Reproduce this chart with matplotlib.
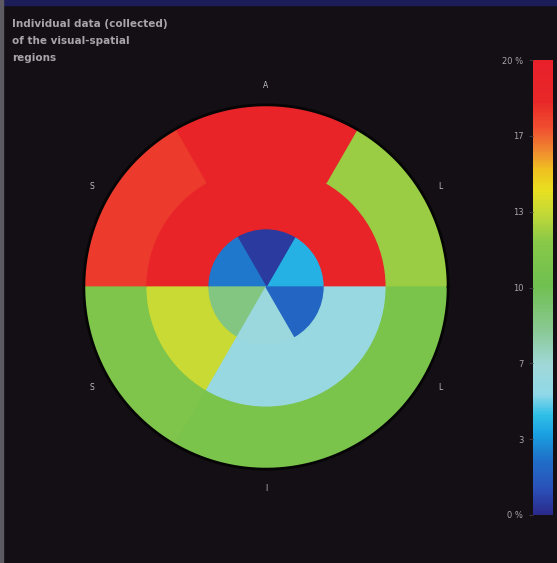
import numpy as np
import matplotlib.pyplot as plt
from matplotlib.colors import LinearSegmentedColormap, Normalize
from matplotlib.colorbar import ColorbarBase
from matplotlib.patches import Rectangle

# segment values (%), sectors counter-clockwise from 3 o'clock, 60 deg each
sector_start_deg = [0, 60, 120, 180, 240, 300]
outer_ring = [12.4, 19.0, 17.6, 11.3, 11.0, 11.0]
middle_ring = [19.0, 19.0, 19.0, 13.4, 6.0, 6.0]
inner_ring = [4.0, 0.5, 2.6, 8.6, 6.2, 2.0]

sector_labels = ['L', 'A', 'S', 'S', 'I', 'L']
ring_edges = [0.0, 0.32, 0.66, 1.0]

cbar_ticks = [0, 3.33, 6.67, 10, 13.33, 16.67, 20]
cbar_ticklabels = ['0 %', '3', '7', '10', '13', '17', '20 %']
vmin, vmax = 0, 20

title_lines = ['Individual data (collected)', 'of the visual-spatial', 'regions']

bg = '#130f14'
cmap = LinearSegmentedColormap.from_list('bull', [
    (0.00, '#2a2a8a'), (0.055, '#2a50b8'), (0.12, '#2070c8'),
    (0.176, '#1aa0e0'), (0.22, '#30c0e8'), (0.264, '#90d8e8'),
    (0.33, '#a0d8d8'), (0.41, '#88c890'), (0.505, '#70c050'),
    (0.60, '#88c848'), (0.66, '#c0d838'), (0.714, '#e8e020'),
    (0.76, '#f0c020'), (0.80, '#f08c30'), (0.85, '#f05030'),
    (0.91, '#e82828'), (1.00, '#e8202a')])
norm = Normalize(vmin, vmax)

fig = plt.figure(figsize=(5.57, 5.63), dpi=100, facecolor=bg)

# frame strips
fig.patches.append(Rectangle((0, 0.992), 1, 0.008, transform=fig.transFigure,
                             color='#1c1c58', zorder=0))
fig.patches.append(Rectangle((0, 0), 0.006, 1, transform=fig.transFigure,
                             color='#5e5a62', zorder=0))

ax = fig.add_axes([0.1113, 0.1279, 0.7325, 0.7247], projection='polar')
ax.set_facecolor(bg)
ax.set_ylim(0, 1.12)
ax.set_axis_off()

width = np.deg2rad(60)
for ring, vals in enumerate([inner_ring, middle_ring, outer_ring]):
    r0, r1 = ring_edges[ring], ring_edges[ring + 1]
    for start, v in zip(sector_start_deg, vals):
        ax.bar(np.deg2rad(start), r1 - r0, width=width, bottom=r0,
               align='edge', color=cmap(norm(v)), edgecolor=cmap(norm(v)),
               linewidth=0.9)

th = np.linspace(0, 2 * np.pi, 400)
ax.plot(th, np.full_like(th, 1.0), color='#050505', lw=2.0)

for start, lab in zip(sector_start_deg, sector_labels):
    ax.text(np.deg2rad(start + 30), 1.105, lab, color='#c0c0c0',
            fontsize=5.5, ha='center', va='center')

for i, line in enumerate(title_lines):
    fig.text(0.022, 0.957 - i * 0.030, line, color='#a8a4aa',
             fontsize=7.5, fontweight='bold', ha='left', va='center')

cax = fig.add_axes([0.957, 0.0853, 0.036, 0.808])
cb = ColorbarBase(cax, cmap=cmap, norm=norm, orientation='vertical',
                  ticks=cbar_ticks)
cb.outline.set_visible(False)
cax.yaxis.set_ticks_position('left')
cax.set_yticklabels(cbar_ticklabels)
cax.tick_params(axis='y', colors='#3a363c', labelcolor='#a8a4aa',
                labelsize=6, length=3, width=0.8, pad=4)

fig.savefig('out.png', dpi=100, facecolor=bg)
